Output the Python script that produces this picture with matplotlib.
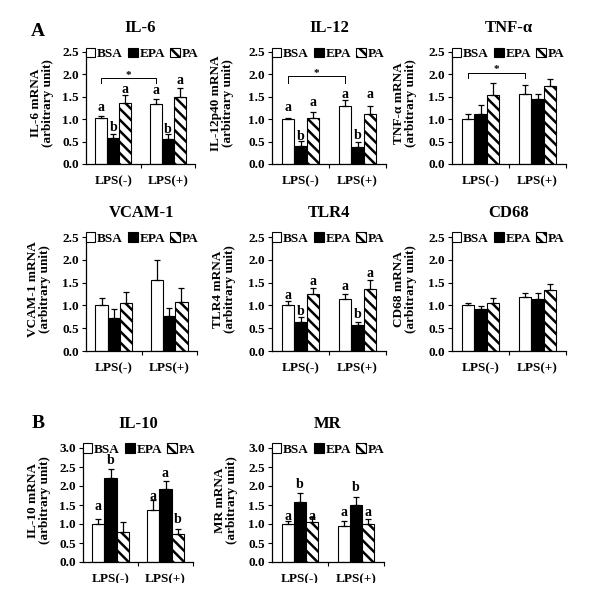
import matplotlib
matplotlib.use('Agg')
import matplotlib.pyplot as plt
import numpy as np
from matplotlib.patches import Rectangle

plt.rcParams['font.family'] = 'Liberation Serif'
plt.rcParams['font.weight'] = 'bold'
plt.rcParams['hatch.linewidth'] = 1.8

groups = ['LPS(-)', 'LPS(+)']
treatments = ['BSA', 'EPA', 'PA']

# values per panel: [BSA-, EPA-, PA-, BSA+, EPA+, PA+]
il6_mean = [1.03, 0.57, 1.36, 1.34, 0.56, 1.50]
il6_err = [0.04, 0.09, 0.19, 0.12, 0.11, 0.19]
il6_let = ['a', 'b', 'a', 'a', 'b', 'a']
il6_let_y = [1.26, 0.81, 1.66, 1.63, 0.76, 1.87]

il12_mean = [1.00, 0.40, 1.02, 1.30, 0.38, 1.12]
il12_err = [0.03, 0.11, 0.13, 0.12, 0.12, 0.18]
il12_let = ['a', 'b', 'a', 'a', 'b', 'a']
il12_let_y = [1.26, 0.61, 1.37, 1.56, 0.63, 1.56]

tnf_mean = [1.00, 1.11, 1.54, 1.56, 1.46, 1.73]
tnf_err = [0.11, 0.20, 0.26, 0.20, 0.11, 0.16]

vcam_mean = [1.00, 0.72, 1.05, 1.55, 0.77, 1.08]
vcam_err = [0.16, 0.20, 0.24, 0.45, 0.18, 0.31]

tlr4_mean = [1.00, 0.63, 1.25, 1.14, 0.57, 1.37]
tlr4_err = [0.09, 0.11, 0.13, 0.12, 0.07, 0.18]
tlr4_let = ['a', 'b', 'a', 'a', 'b', 'a']
tlr4_let_y = [1.21, 0.87, 1.52, 1.42, 0.80, 1.71]

cd68_mean = [1.00, 0.93, 1.05, 1.18, 1.14, 1.34]
cd68_err = [0.06, 0.06, 0.11, 0.09, 0.13, 0.13]

il10_mean = [1.00, 2.20, 0.78, 1.37, 1.92, 0.73]
il10_err = [0.13, 0.25, 0.27, 0.25, 0.22, 0.13]
il10_let = ['a', 'b', '', 'a', 'a', 'b']
il10_let_y = [1.46, 2.66, 0, 1.72, 2.33, 1.11]

mr_mean = [1.00, 1.58, 1.04, 0.96, 1.50, 0.99]
mr_err = [0.07, 0.24, 0.15, 0.13, 0.20, 0.13]
mr_let = ['a', 'b', 'a', 'a', 'b', 'a']
mr_let_y = [1.21, 2.04, 1.21, 1.30, 1.95, 1.30]

W, H = 600, 600
fig = plt.figure(figsize=(6, 6), dpi=100)


def rect(l, t, r, b):
    return [l / W, 1 - b / H, (r - l) / W, (b - t) / H]


def panel(box, title, ylab, mean, err, ymax, lab_dx, letters=None, let_y=None, bracket=None):
    l, t, r, b = box
    ax = fig.add_axes(rect(l, t, r, b))
    w = 0.22
    x = np.array([0, 1])
    styles = [dict(color='white', edgecolor='black'),
              dict(color='black', edgecolor='black'),
              dict(color='white', edgecolor='black', hatch='\\\\\\')]
    for i in range(3):
        vals = [mean[i], mean[i + 3]]
        errs = [err[i], err[i + 3]]
        xs = x + (i - 1) * w
        ax.bar(xs, vals, w, linewidth=0.8, label=treatments[i], **styles[i])
        ax.errorbar(xs, vals, yerr=[[0, 0], errs], fmt='none', ecolor='black',
                    elinewidth=0.9, capsize=2.2, capthick=0.9)
    if letters:
        for k in range(6):
            if letters[k]:
                xi = (k // 3) + (k % 3 - 1) * w
                ax.text(xi, let_y[k], letters[k], ha='center', va='center', fontsize=10)
    if bracket:
        yb, ytk, ys = bracket
        ax.plot([-w, -w, 1 - w, 1 - w], [ytk, yb, yb, ytk], color='black', lw=0.7)
        ax.text(0.5 - w, ys, '*', ha='center', va='center', fontsize=8)
    ax.set_xlim(-0.5, 1.5)
    ax.set_ylim(0, ymax)
    ax.set_yticks(np.arange(0, ymax + 0.01, 0.5))
    ax.set_yticklabels(['%.1f' % v for v in np.arange(0, ymax + 0.01, 0.5)], fontsize=9.5)
    ax.set_xticks([0, 1])
    ax.set_xticklabels(groups, fontsize=9.5)
    ax.set_xticks([0.5, 1.5], minor=True)
    ax.tick_params(axis='x', which='major', length=0, pad=8)
    ax.tick_params(axis='x', which='minor', length=3, direction='out', width=0.8)
    ax.tick_params(axis='y', length=3, width=0.8, pad=2)
    for s in ['top', 'right']:
        ax.spines[s].set_visible(False)
    for s in ['left', 'bottom']:
        ax.spines[s].set_linewidth(0.9)
    ax.legend(loc='upper left', bbox_to_anchor=(0.0, 1.04), ncol=3, frameon=False,
              fontsize=9.5, handlelength=0.7, handleheight=0.7, handletextpad=0.15,
              columnspacing=0.4, borderaxespad=0, borderpad=0)
    cx = (l + r) / 2
    fig.text(cx / W, 1 - (t - 24) / H, title, ha='center', va='center', fontsize=12)
    fig.text((l - lab_dx) / W, 1 - ((t + b) / 2 - 5) / H, ylab, rotation=90,
             ha='center', va='center', fontsize=9.5, linespacing=0.95)
    return ax


panel((86, 52, 195, 164), 'IL-6', 'IL-6 mRNA\n(arbitrary unit)', il6_mean, il6_err, 2.5, 44,
      il6_let, il6_let_y, (1.91, 1.80, 1.97))
panel((272, 52, 386, 164), 'IL-12', 'IL-12p40 mRNA\n(arbitrary unit)', il12_mean, il12_err, 2.5, 50,
      il12_let, il12_let_y, (1.96, 1.81, 2.02))
panel((452, 52, 566, 164), 'TNF-α', 'TNF-α mRNA\n(arbitrary unit)', tnf_mean, tnf_err, 2.5, 47,
      None, None, (2.04, 1.93, 2.10))
panel((86, 237, 197, 351), 'VCAM-1', 'VCAM-1 mRNA\n(arbitrary unit)', vcam_mean, vcam_err, 2.5, 47)
panel((272, 237, 386, 351), 'TLR4', 'TLR4 mRNA\n(arbitrary unit)', tlr4_mean, tlr4_err, 2.5, 48,
      tlr4_let, tlr4_let_y)
panel((452, 237, 566, 351), 'CD68', 'CD68 mRNA\n(arbitrary unit)', cd68_mean, cd68_err, 2.5, 47)
panel((83, 448, 193, 562), 'IL-10', 'IL-10 mRNA\n(arbitrary unit)', il10_mean, il10_err, 3.0, 44,
      il10_let, il10_let_y)
panel((272, 448, 384, 562), 'MR', 'MR mRNA\n(arbitrary unit)', mr_mean, mr_err, 3.0, 46,
      mr_let, mr_let_y)

fig.text(38 / W, 1 - 32 / H, 'A', ha='center', va='center', fontsize=14)
fig.text(38 / W, 1 - 423 / H, 'B', ha='center', va='center', fontsize=14)

# the reference image is cut off just below the last row
fig.patches.append(Rectangle((0, 0), 1, 1 - 583 / H, transform=fig.transFigure,
                             facecolor='white', edgecolor='none', zorder=10))

fig.savefig('out.png', dpi=100)
